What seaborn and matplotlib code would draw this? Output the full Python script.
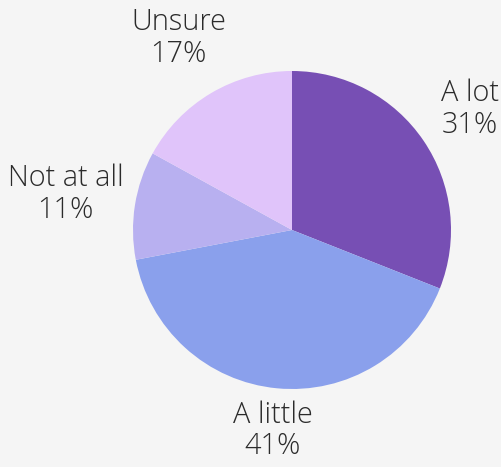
import numpy as np
import matplotlib
matplotlib.use("Agg")
import matplotlib.pyplot as plt
import seaborn as sns

categories = ["A lot", "A little", "Not at all", "Unsure"]
shares = [31, 41, 11, 17]
colors = ["#774fb4", "#8aa0ec", "#b8b0f0", "#e0c4fa"]

sns.set_theme(style="white")
plt.rcParams["font.family"] = ["Open Sans", "DejaVu Sans"]

W, H = 502, 467
fig = plt.figure(figsize=(W / 100, H / 100), dpi=100)
fig.patch.set_facecolor("#f5f5f5")
ax = fig.add_axes([0, 0, 1, 1])
ax.set_facecolor("#f5f5f5")

cx, cy, r = 292, H - 230, 159
wedges, _ = ax.pie(shares, colors=colors, startangle=90, counterclock=False,
                   radius=r, center=(cx, cy),
                   wedgeprops=dict(linewidth=0), frame=False)

# label distance (in radii) for each slice
dist = [1.35, 1.27, 1.44, 1.40]
for w, name, val, d in zip(wedges, categories, shares, dist):
    ang = np.deg2rad((w.theta1 + w.theta2) / 2)
    ax.text(cx + d * r * np.cos(ang), cy + d * r * np.sin(ang),
            f"{name}\n{val}%", ha="center", va="center", multialignment="center",
            fontsize=20.8, fontweight="light", color="#2b2b2b", linespacing=1.08)

ax.set_xlim(0, W)
ax.set_ylim(0, H)
ax.set_aspect("auto")
ax.axis("off")
fig.savefig("out.png", dpi=100, facecolor=fig.get_facecolor())
